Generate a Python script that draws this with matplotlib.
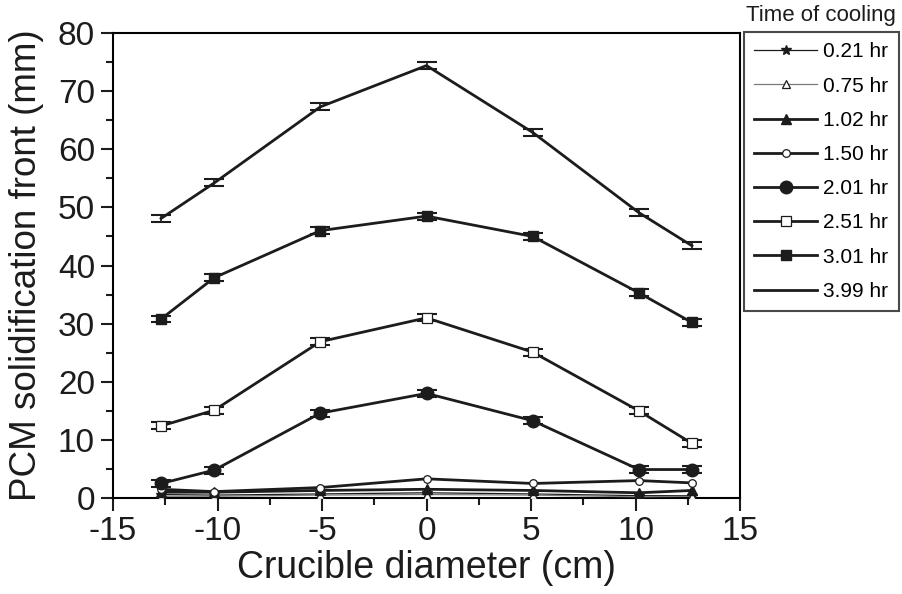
import numpy as np
import matplotlib
matplotlib.use("Agg")
import matplotlib.pyplot as plt

plt.rcParams.update({
    "font.family": ["Liberation Sans", "DejaVu Sans"],
    "axes.linewidth": 1.5,
    "axes.unicode_minus": False,
})

# crucible position (cm) and solidification front (mm) per cooling time
pos = [-12.7, -10.16, -5.08, 0, 5.08, 10.16, 12.7]
labels = ["0.21 hr", "0.75 hr", "1.02 hr", "1.50 hr", "2.01 hr", "2.51 hr", "3.01 hr", "3.99 hr"]
f021 = [0.6, 0.5, 0.7, 0.9, 0.7, 0.4, 0.4]
f075 = [0.3, 0.3, 0.5, 0.6, 0.5, 0.2, 0.3]
f102 = [1.0, 1.0, 1.3, 1.5, 1.3, 0.9, 1.3]
f150 = [1.5, 1.1, 1.8, 3.3, 2.5, 3.0, 2.6]
f201 = [2.5, 4.8, 14.6, 18.0, 13.3, 4.9, 4.9]
f251 = [12.4, 15.1, 26.9, 31.0, 25.1, 15.0, 9.4]
f301 = [30.8, 37.9, 46.0, 48.5, 45.0, 35.3, 30.2]
f399 = [48.1, 54.2, 67.3, 74.4, 62.9, 49.1, 43.4]
err = [0.6, 0.6, 0.6, 0.6]  # for 2.01, 2.51, 3.01, 3.99 hr

INK = "#1c1c1c"
series = [f021, f075, f102, f150, f201, f251, f301, f399]
styles = [
    dict(marker="*", ms=7, mfc=INK, mec=INK, lw=0.9, color=INK),
    dict(marker="^", ms=6, mfc="white", mec=INK, mew=0.9, lw=0.9, color="#7a7a7a"),
    dict(marker="^", ms=7, mfc=INK, mec=INK, lw=2.0, color=INK),
    dict(marker="o", ms=5.5, mfc="white", mec=INK, mew=0.9, lw=2.0, color=INK),
    dict(marker="o", ms=9, mfc=INK, mec=INK, lw=2.0, color=INK),
    dict(marker="s", ms=7, mfc="white", mec=INK, mew=0.9, lw=2.0, color=INK),
    dict(marker="s", ms=7.5, mfc=INK, mec=INK, lw=2.0, color=INK),
    dict(marker=None, lw=2.0, color=INK),
]

fig = plt.figure(figsize=(9.02, 5.94), dpi=100)
ax = fig.add_axes([0.1253, 0.1616, 0.6951, 0.7828])

handles = []
for y, lab, st in zip(series, labels, styles):
    h, = ax.plot(pos, y, label=lab, zorder=3, **st)
    handles.append(h)

for y, e in zip([f201, f251, f301, f399], err):
    ax.errorbar(pos, y, yerr=e, fmt="none", ecolor=INK, elinewidth=1.2,
                capsize=7.5, capthick=1.5, zorder=2)

ax.set_xlim(-15, 15)
ax.set_ylim(0, 80)
ax.set_xticks(np.arange(-15, 16, 5))
ax.set_xticks(np.arange(-12.5, 15, 5), minor=True)
ax.set_yticks(np.arange(0, 81, 10))
ax.set_yticks(np.arange(5, 80, 10), minor=True)
ax.tick_params(which="both", direction="out", width=1.5, labelsize=24,
               top=False, right=False, colors=INK)
ax.tick_params(which="major", length=9, pad=4)
ax.tick_params(which="minor", length=5)
ax.set_xlabel("Crucible diameter (cm)", fontsize=27, color=INK, labelpad=2)
ax.set_ylabel("PCM solidification front (mm)", fontsize=26.5, color=INK, labelpad=10)

leg = fig.legend(handles=handles, loc="upper left",
                 bbox_to_anchor=(744 / 902, 1 - 32 / 594), fontsize=15,
                 frameon=True, fancybox=False, edgecolor=INK, numpoints=1,
                 handlelength=3.0, handletextpad=0.3, labelspacing=0.73,
                 borderpad=0.5, borderaxespad=0)
leg.get_frame().set_linewidth(1.5)
fig.text(821 / 902, 1 - 15 / 594, "Time of cooling", fontsize=16,
         ha="center", va="center", color=INK)

fig.savefig("out.png", dpi=100)
